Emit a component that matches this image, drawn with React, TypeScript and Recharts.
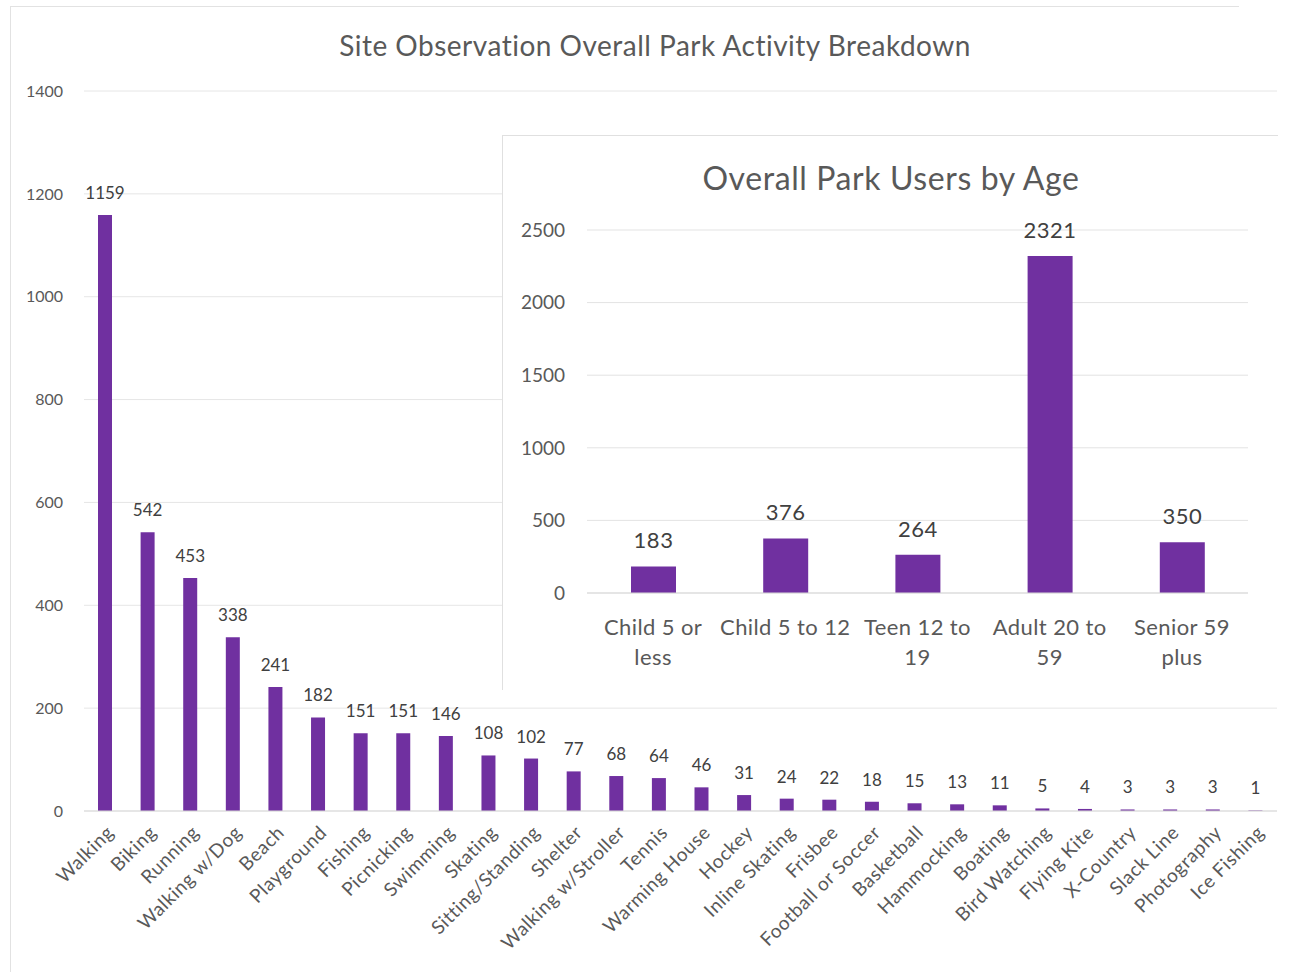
import React from 'react'
import { BarChart, Bar, XAxis, YAxis, CartesianGrid, LabelList } from 'recharts'

const activities = [
  'Walking', 'Biking', 'Running', 'Walking w/Dog', 'Beach', 'Playground', 'Fishing',
  'Picnicking', 'Swimming', 'Skating', 'Sitting/Standing', 'Shelter', 'Walking w/Stroller',
  'Tennis', 'Warming House', 'Hockey', 'Inline Skating', 'Frisbee', 'Football or Soccer',
  'Basketball', 'Hammocking', 'Boating', 'Bird Watching', 'Flying Kite', 'X-Country',
  'Slack Line', 'Photography', 'Ice Fishing',
]
const activityCounts = [
  1159, 542, 453, 338, 241, 182, 151, 151, 146, 108, 102, 77, 68, 64, 46, 31, 24, 22, 18,
  15, 13, 11, 5, 4, 3, 3, 3, 1,
]
const activityTicks = [0, 200, 400, 600, 800, 1000, 1200, 1400]

// age labels keep the line breaks the inset shows
const ageGroups = ['Child 5 or\nless', 'Child 5 to 12', 'Teen 12 to\n19', 'Adult 20 to\n59', 'Senior 59\nplus']
const ageCounts = [183, 376, 264, 2321, 350]
const ageTicks = [0, 500, 1000, 1500, 2000, 2500]

const activityRows = activities.map((name, i) => ({ name, count: activityCounts[i] }))
const ageRows = ageGroups.map((name, i) => ({ name, count: ageCounts[i] }))

const FONT = 'Lato, "Open Sans", sans-serif'
const PURPLE = '#7030A0'
const GREY = '#595959'

const RotatedTick = ({ x, y, payload }: any) => (
  <text
    x={x + 5}
    y={y + 10}
    transform={`rotate(-45, ${x + 5}, ${y + 10})`}
    textAnchor="end"
    dy="0.35em"
    fontSize={19}
    letterSpacing={0.6}
    fill={GREY}
    fontFamily={FONT}
  >
    {payload.value}
  </text>
)

const WrappedTick = ({ x, y, payload }: any) => {
  const lines = String(payload.value).split('\n')
  return (
    <text x={x} y={y + 26} textAnchor="middle" fontSize={22} letterSpacing={0.4} fill={GREY} fontFamily={FONT}>
      {lines.map((line, i) => (
        <tspan key={i} x={x} dy={i === 0 ? '0.35em' : 30}>
          {line}
        </tspan>
      ))}
    </text>
  )
}

export default function App() {
  return (
    <div style={{ position: 'relative', width: 1299, height: 977, background: '#fff', fontFamily: FONT }}>
      <style>{'body{margin:0}'}</style>
      <div
        style={{
          position: 'absolute', left: 10, top: 6, width: 1228, height: 965,
          borderTop: '1px solid #e2e2e2', borderLeft: '1px solid #e2e2e2',
        }}
      />
      <div
        style={{
          position: 'absolute', left: 0, width: 1310, top: 28, textAlign: 'center',
          fontSize: 28, letterSpacing: 0.5, color: GREY, lineHeight: '34px',
        }}
      >
        Site Observation Overall Park Activity Breakdown
      </div>
      <BarChart
        width={1299}
        height={977}
        data={activityRows}
        margin={{ top: 91, right: 22, bottom: 0, left: 0 }}
        barSize={14}
        style={{ position: 'absolute', left: 0, top: 0 }}
      >
        <CartesianGrid vertical={false} stroke="#e6e6e6" />
        <XAxis
          dataKey="name"
          interval={0}
          height={166}
          axisLine={{ stroke: '#d9d9d9' }}
          tickLine={false}
          tick={<RotatedTick />}
        />
        <YAxis
          width={84}
          domain={[0, 1400]}
          ticks={activityTicks}
          axisLine={false}
          tickLine={false}
          tickSize={0}
          tickMargin={21}
          tick={{ fontSize: 16, fill: GREY, fontFamily: FONT }}
        />
        <Bar dataKey="count" fill={PURPLE} isAnimationActive={false}>
          <LabelList dataKey="count" position="top" offset={16} fontSize={17} fill="#404040" fontFamily={FONT} />
        </Bar>
      </BarChart>

      <div
        style={{
          position: 'absolute', left: 502, top: 135, width: 776, height: 555, background: '#fff',
          borderTop: '1px solid #e0e0e0', borderLeft: '1px solid #e0e0e0', boxSizing: 'border-box',
        }}
      >
        <div
          style={{
            position: 'absolute', left: 0, width: 776, top: 22, textAlign: 'center',
            fontSize: 32, letterSpacing: 0.6, color: GREY, lineHeight: '40px',
          }}
        >
          Overall Park Users by Age
        </div>
        <BarChart
          width={775}
          height={554}
          data={ageRows}
          margin={{ top: 94, right: 30, bottom: 0, left: 0 }}
          barSize={45}
          style={{ position: 'absolute', left: 0, top: 0 }}
        >
          <CartesianGrid vertical={false} stroke="#e3e3e3" />
          <XAxis
            dataKey="name"
            interval={0}
            height={97}
            axisLine={{ stroke: '#d9d9d9' }}
            tickLine={false}
            tick={<WrappedTick />}
          />
          <YAxis
            width={84}
            domain={[0, 2500]}
            ticks={ageTicks}
            axisLine={false}
            tickLine={false}
            tickSize={0}
            tickMargin={22}
            tick={{ fontSize: 19, fill: GREY, fontFamily: FONT }}
          />
          <Bar dataKey="count" fill={PURPLE} isAnimationActive={false}>
            <LabelList dataKey="count" position="top" offset={18} fontSize={22} letterSpacing={0.5} fill="#404040" fontFamily={FONT} />
          </Bar>
        </BarChart>
      </div>
    </div>
  )
}
